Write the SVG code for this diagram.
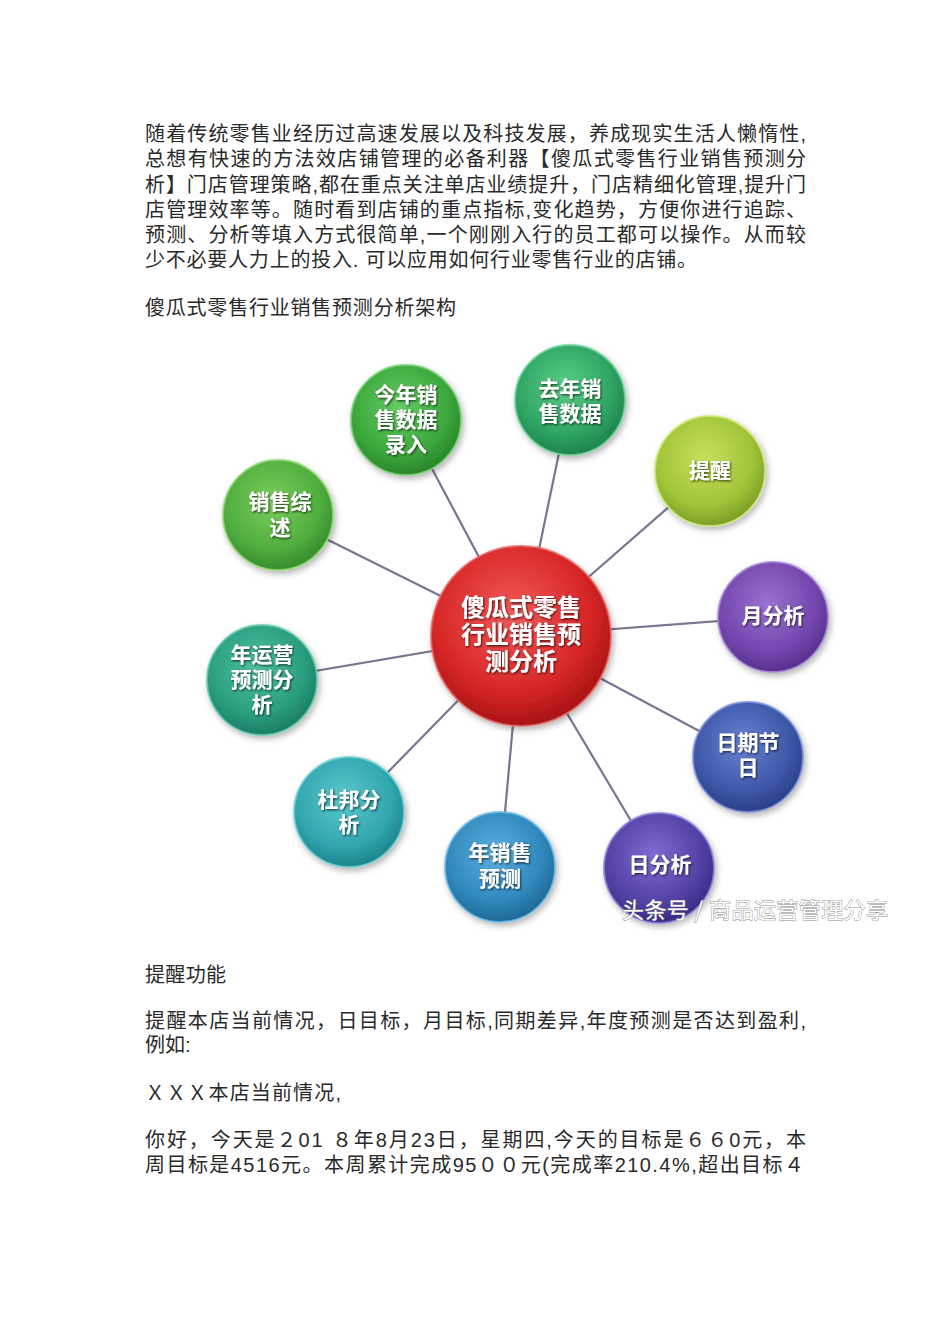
<svg xmlns="http://www.w3.org/2000/svg" width="950" height="1344" viewBox="0 0 950 1344">
<style>
.body{font-family:"Liberation Sans","Noto Sans CJK SC",sans-serif;font-size:20px;fill:#2a2a2a;}
.num{font-family:"Liberation Sans",Arial,sans-serif;}
.lbl{font-family:"Liberation Sans","Noto Sans CJK SC",sans-serif;font-size:21px;font-weight:700;fill:#ffffff;text-anchor:middle;filter:url(#ts);}
.big{font-size:24px;}
.conn line{stroke:#777590;stroke-width:2.2;}
.rim{stroke-width:2;stroke-opacity:0.8;}
.wm{font-family:"Noto Sans CJK SC",sans-serif;font-size:22px;fill:#ffffff;stroke:#8c8c8c;stroke-width:0.9;paint-order:stroke;}
</style>
<defs>
<filter id="sh" x="-30%" y="-30%" width="160%" height="160%"><feDropShadow dx="2" dy="3" stdDeviation="3" flood-color="#000" flood-opacity="0.3"/></filter>
<filter id="ts" x="-20%" y="-20%" width="140%" height="140%"><feDropShadow dx="1" dy="1.2" stdDeviation="0.8" flood-color="#000" flood-opacity="0.7"/></filter>
<radialGradient id="gRed" cx="45%" cy="38%" r="62%"><stop offset="0" stop-color="#f25a5a"/><stop offset="0.7" stop-color="#d72626"/><stop offset="1" stop-color="#a81414"/></radialGradient>
<radialGradient id="gG1" cx="45%" cy="38%" r="62%"><stop offset="0" stop-color="#66cc66"/><stop offset="0.7" stop-color="#3ca83c"/><stop offset="1" stop-color="#2a862a"/></radialGradient>
<radialGradient id="gG2" cx="45%" cy="38%" r="62%"><stop offset="0" stop-color="#5ccf88"/><stop offset="0.7" stop-color="#2fa463"/><stop offset="1" stop-color="#1f844e"/></radialGradient>
<radialGradient id="gYG" cx="45%" cy="38%" r="62%"><stop offset="0" stop-color="#c6e05c"/><stop offset="0.7" stop-color="#a0c438"/><stop offset="1" stop-color="#7c9e26"/></radialGradient>
<radialGradient id="gG3" cx="45%" cy="38%" r="62%"><stop offset="0" stop-color="#7ccd5c"/><stop offset="0.7" stop-color="#4fae3e"/><stop offset="1" stop-color="#388c2e"/></radialGradient>
<radialGradient id="gPu" cx="45%" cy="38%" r="62%"><stop offset="0" stop-color="#9a72d2"/><stop offset="0.7" stop-color="#7447ae"/><stop offset="1" stop-color="#58308e"/></radialGradient>
<radialGradient id="gTe" cx="45%" cy="38%" r="62%"><stop offset="0" stop-color="#4fc2a2"/><stop offset="0.7" stop-color="#2a9e80"/><stop offset="1" stop-color="#1c7d65"/></radialGradient>
<radialGradient id="gBl" cx="45%" cy="38%" r="62%"><stop offset="0" stop-color="#6a82d2"/><stop offset="0.7" stop-color="#3e58a8"/><stop offset="1" stop-color="#2b3f88"/></radialGradient>
<radialGradient id="gCy" cx="45%" cy="38%" r="62%"><stop offset="0" stop-color="#5cc8ce"/><stop offset="0.7" stop-color="#30a6ae"/><stop offset="1" stop-color="#1e858d"/></radialGradient>
<radialGradient id="gSk" cx="45%" cy="38%" r="62%"><stop offset="0" stop-color="#5cb0e2"/><stop offset="0.7" stop-color="#3088bc"/><stop offset="1" stop-color="#1f6998"/></radialGradient>
<radialGradient id="gIn" cx="45%" cy="38%" r="62%"><stop offset="0" stop-color="#806cd2"/><stop offset="0.7" stop-color="#5441a6"/><stop offset="1" stop-color="#3b2c86"/></radialGradient>
</defs>
<rect width="950" height="1344" fill="#ffffff"/>

<g id="intro">
<text class="body"><tspan x="145" y="141" textLength="661" lengthAdjust="spacing">随着传统零售业经历过高速发展以及科技发展，养成现实生活人懒惰性,</tspan><tspan x="145" y="166" textLength="661" lengthAdjust="spacing">总想有快速的方法效店铺管理的必备利器【傻瓜式零售行业销售预测分</tspan><tspan x="145" y="192" textLength="661" lengthAdjust="spacing">析】门店管理策略,都在重点关注单店业绩提升，门店精细化管理,提升门</tspan><tspan x="145" y="217" textLength="661" lengthAdjust="spacing">店管理效率等。随时看到店铺的重点指标,变化趋势，方便你进行追踪、</tspan><tspan x="145" y="242" textLength="661" lengthAdjust="spacing">预测、分析等填入方式很简单,一个刚刚入行的员工都可以操作。从而较</tspan><tspan x="145" y="267" textLength="552" lengthAdjust="spacing">少不必要人力上的投入. 可以应用如何行业零售行业的店铺。</tspan></text>
<text class="body" x="145" y="315" textLength="311" lengthAdjust="spacing">傻瓜式零售行业销售预测分析架构</text>
</g>

<g class="conn" id="connectors">
<line x1="521" y1="636" x2="406" y2="420"/>
<line x1="521" y1="636" x2="570" y2="400"/>
<line x1="521" y1="636" x2="710" y2="471"/>
<line x1="521" y1="636" x2="278" y2="515"/>
<line x1="521" y1="636" x2="773" y2="617"/>
<line x1="521" y1="636" x2="262" y2="680"/>
<line x1="521" y1="636" x2="748" y2="757"/>
<line x1="521" y1="636" x2="349" y2="812"/>
<line x1="521" y1="636" x2="500" y2="867"/>
<line x1="521" y1="636" x2="659" y2="868"/>
</g>

<g id="n-center"><circle cx="521" cy="636" r="90" fill="url(#gRed)" class="rim" stroke="#e86a6a" filter="url(#sh)"/>
<text class="lbl big"><tspan x="521" y="616">傻瓜式零售</tspan><tspan x="521" y="643">行业销售预</tspan><tspan x="521" y="670">测分析</tspan></text></g>

<g id="n-jinnian"><circle cx="406" cy="420" r="55" fill="url(#gG1)" class="rim" stroke="#7ad07a" filter="url(#sh)"/>
<text class="lbl"><tspan x="406" y="402">今年销</tspan><tspan x="406" y="427">售数据</tspan><tspan x="406" y="452">录入</tspan></text></g>

<g id="n-qunian"><circle cx="570" cy="400" r="55" fill="url(#gG2)" class="rim" stroke="#6ad39a" filter="url(#sh)"/>
<text class="lbl"><tspan x="570" y="396">去年销</tspan><tspan x="570" y="421">售数据</tspan></text></g>

<g id="n-tixing"><circle cx="710" cy="471" r="55" fill="url(#gYG)" class="rim" stroke="#d2e878" filter="url(#sh)"/>
<text class="lbl" x="710" y="478">提醒</text></g>

<g id="n-zongshu"><circle cx="278" cy="515" r="55" fill="url(#gG3)" class="rim" stroke="#8ed870" filter="url(#sh)"/>
<text class="lbl"><tspan x="280" y="509">销售综</tspan><tspan x="280" y="535">述</tspan></text></g>

<g id="n-yue"><circle cx="773" cy="617" r="55" fill="url(#gPu)" class="rim" stroke="#a888d8" filter="url(#sh)"/>
<text class="lbl" x="773" y="623">月分析</text></g>

<g id="n-nianyunying"><circle cx="262" cy="680" r="55" fill="url(#gTe)" class="rim" stroke="#66cab0" filter="url(#sh)"/>
<text class="lbl"><tspan x="262" y="662">年运营</tspan><tspan x="262" y="687">预测分</tspan><tspan x="262" y="712">析</tspan></text></g>

<g id="n-riqi"><circle cx="748" cy="757" r="55" fill="url(#gBl)" class="rim" stroke="#7e92d8" filter="url(#sh)"/>
<text class="lbl"><tspan x="748" y="750">日期节</tspan><tspan x="748" y="775">日</tspan></text></g>

<g id="n-dubang"><circle cx="349" cy="812" r="55" fill="url(#gCy)" class="rim" stroke="#70d0d6" filter="url(#sh)"/>
<text class="lbl"><tspan x="349" y="807">杜邦分</tspan><tspan x="349" y="832">析</tspan></text></g>

<g id="n-nianxiaoshou"><circle cx="500" cy="867" r="55" fill="url(#gSk)" class="rim" stroke="#70bce6" filter="url(#sh)"/>
<text class="lbl"><tspan x="500" y="860">年销售</tspan><tspan x="500" y="886">预测</tspan></text></g>

<g id="n-ri"><circle cx="659" cy="868" r="55" fill="url(#gIn)" class="rim" stroke="#9282d8" filter="url(#sh)"/>
<text class="lbl" x="660" y="872">日分析</text></g>

<text class="wm" x="622" y="918" textLength="266" lengthAdjust="spacing">头条号 / 商品运营管理分享</text>

<g id="reminder">
<text class="body" x="145" y="982" textLength="81" lengthAdjust="spacing">提醒功能</text>
<text class="body"><tspan x="145" y="1028" textLength="661" lengthAdjust="spacing">提醒本店当前情况，日目标，月目标,同期差异,年度预测是否达到盈利,</tspan><tspan x="145" y="1052">例如:</tspan></text>
<text class="body" x="145" y="1100" textLength="196" lengthAdjust="spacing">ＸＸＸ本店当前情况,</text>
<text class="body"><tspan x="145" y="1147" textLength="661" lengthAdjust="spacing">你好，今天是２01 ８年8月23日，星期四,今天的目标是６６0元，本</tspan><tspan x="145" y="1172" textLength="659" lengthAdjust="spacing">周目标是4516元。本周累计完成95００元(完成率210.4%,超出目标４</tspan></text>
</g>
</svg>
